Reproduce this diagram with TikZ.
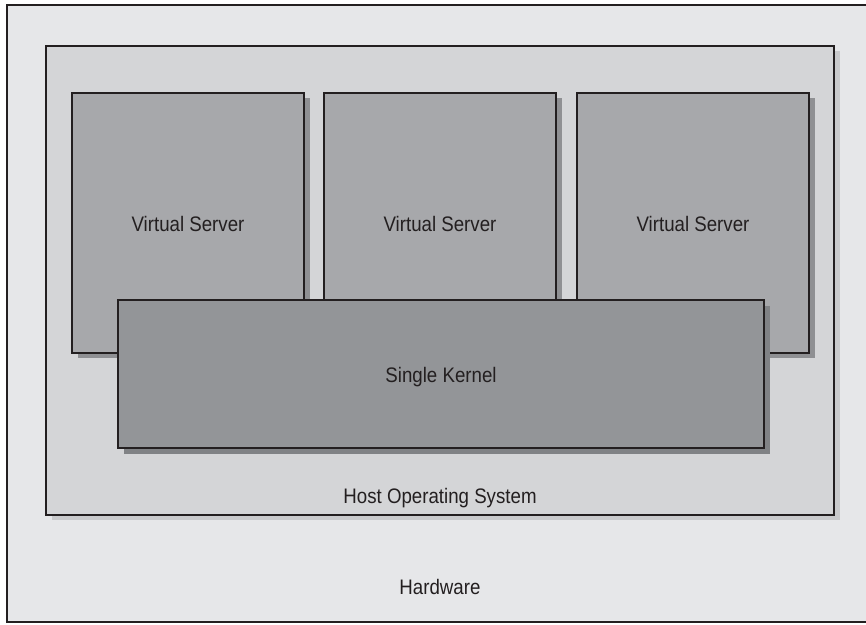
\documentclass[tikz,border=0pt]{standalone}
\usepackage{fontspec}
\setmainfont{Liberation Sans}[FakeStretch=0.89]
\definecolor{hwfill}{HTML}{E6E7E9}
\definecolor{osfill}{HTML}{D4D5D7}
\definecolor{osshadow}{HTML}{C9CACC}
\definecolor{vsfill}{HTML}{A7A8AB}
\definecolor{vsshadow}{HTML}{8F9093}
\definecolor{kfill}{HTML}{939598}
\definecolor{kshadow}{HTML}{808285}
\definecolor{edge}{HTML}{231F20}
\tikzset{
  box/.style={draw=edge, line width=1.8pt},
  lbl/.style={font=\fontsize{21}{24}\selectfont, text=edge},
}
\begin{document}
\begin{tikzpicture}[x=1pt,y=-1pt]
\useasboundingbox (0,0) rectangle (866,624);
% hardware
\begin{scope}
\clip (0,0) rectangle (866,624);
\filldraw[box, fill=hwfill] (7,5) rectangle (872,622);
\end{scope}
\node[lbl] (hw) at (440,587) {Hardware};
% host OS
\fill[osshadow] (52,51) rectangle (840,520);
\filldraw[box, fill=osfill] (46,46) rectangle (834,515);
\node[lbl] (os) at (440,498) {Host Operating System};
% virtual servers
\foreach \x/\n in {72/1,324/2,577/3}{
  \fill[vsshadow] (\x+6,98) rectangle (\x+238,358);
  \filldraw[box, fill=vsfill] (\x,93) rectangle (\x+232,353);
  \node[lbl] (vs\n) at (\x+116,224) {Virtual Server};
}
% kernel
\fill[kshadow] (124,306) rectangle (770,454);
\filldraw[box, fill=kfill] (118,300) rectangle (764,448);
\node[lbl] (k) at (441,377) {Single Kernel};
\end{tikzpicture}
\end{document}
